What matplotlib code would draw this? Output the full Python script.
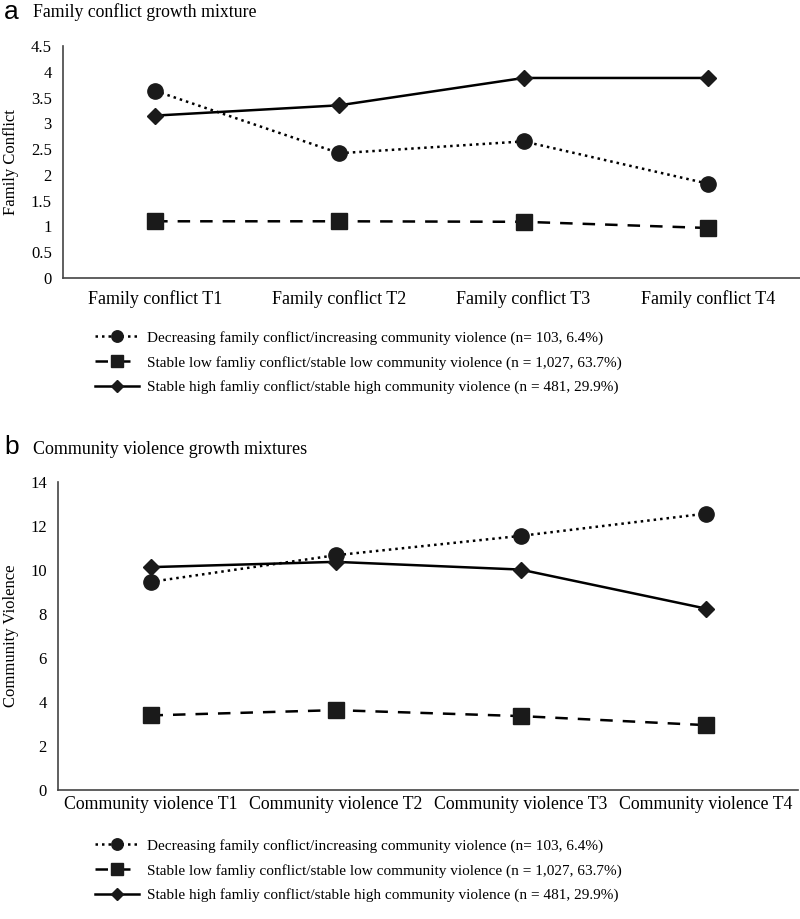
import numpy as np
import matplotlib
matplotlib.use("Agg")
import matplotlib.pyplot as plt
from matplotlib.lines import Line2D

# panel a: family conflict
fc_labels = ['Family conflict T1', 'Family conflict T2', 'Family conflict T3', 'Family conflict T4']
fc_decreasing = [3.63, 2.42, 2.65, 1.83]
fc_stable_low = [1.10, 1.10, 1.09, 0.97]
fc_stable_high = [3.15, 3.35, 3.88, 3.88]
fc_yticks = [0, 0.5, 1, 1.5, 2, 2.5, 3, 3.5, 4, 4.5]

# panel b: community violence
cv_labels = ['Community violence T1', 'Community violence T2', 'Community violence T3', 'Community violence T4']
cv_decreasing = [9.46, 10.67, 11.55, 12.56]
cv_stable_low = [3.39, 3.63, 3.36, 2.95]
cv_stable_high = [10.13, 10.37, 10.02, 8.25]
cv_yticks = [0, 2, 4, 6, 8, 10, 12, 14]

legend_labels = [
    'Decreasing family conflict/increasing community violence (n= 103, 6.4%)',
    'Stable low famliy conflict/stable low community violence (n = 1,027, 63.7%)',
    'Stable high famliy conflict/stable high community violence (n = 481, 29.9%)',
]

plt.rcParams['font.family'] = ['Liberation Serif', 'DejaVu Serif']

fig = plt.figure(figsize=(8, 9.19), dpi=100)
W, H = 800, 919

def px_axes(left, top, right, bottom):
    return fig.add_axes([left / W, 1 - bottom / H, (right - left) / W, (bottom - top) / H])

styles = [
    dict(linestyle=(0, (1, 1.6)), marker='o', markersize=11),
    dict(linestyle=(0, (5, 4)), marker='s', markersize=11),
    dict(linestyle='-', marker='D', markersize=8.5),
]

def draw_panel(ax, labels, series, yticks, ylabel, ylim, tick_fs, xpad, left_px):
    x = np.arange(len(labels))
    for vals, st in zip(series, styles):
        ax.plot(x, vals, color='black', linewidth=1.8, markerfacecolor='#1a1a1a',
                markeredgecolor='#1a1a1a', clip_on=False, **st)
    ax.set_xlim(-0.5, len(labels) - 0.5)
    ax.set_ylim(*ylim)
    ax.set_yticks(yticks)
    ax.set_yticklabels([('%g' % t) for t in yticks], fontsize=12)
    ax.set_xticks(x)
    ax.set_xticklabels(labels, fontsize=tick_fs)
    ax.tick_params(length=0)
    ax.tick_params(axis='y', pad=8)
    ax.tick_params(axis='x', pad=xpad)
    for s in ['top', 'right']:
        ax.spines[s].set_visible(False)
    for s in ['left', 'bottom']:
        ax.spines[s].set_color('#444444')
        ax.spines[s].set_linewidth(1.2)
    ax.set_ylabel(ylabel, fontsize=12, va='center')
    # place the y label at a fixed distance from the figure edge
    ax_w = ax.get_position().width * W
    ax.yaxis.set_label_coords(-(left_px - 11) / ax_w, 0.5)

def add_legend(top_y):
    handles = [Line2D([0], [0], color='black', linewidth=1.8, markerfacecolor='#1a1a1a',
                      markeredgecolor='#1a1a1a', **{**st, 'markersize': st['markersize'] * 0.75})
               for st in styles]
    fig.legend(handles, legend_labels, loc='upper left',
               bbox_to_anchor=(95 / W, 1 - top_y / H), frameon=False, fontsize=11,
               handlelength=2.9, handletextpad=0.5, labelspacing=0.7,
               borderpad=0, borderaxespad=0)

ax1 = px_axes(63, 46, 800, 278)
draw_panel(ax1, fc_labels, [fc_decreasing, fc_stable_low, fc_stable_high], fc_yticks,
           'Family Conflict', (0, 4.5), 13, 9, 63)
ax2 = px_axes(58, 482, 798, 790)
draw_panel(ax2, cv_labels, [cv_decreasing, cv_stable_low, cv_stable_high], cv_yticks,
           'Community Violence', (0, 14), 12.8, 4, 58)

fig.text(4 / W, 1 - 12 / H, 'a', fontsize=19, family='Liberation Sans', va='center')
fig.text(33 / W, 1 - 12 / H, 'Family conflict growth mixture', fontsize=12.8, va='center')
fig.text(4 / W, 1 - 447 / H, 'b', fontsize=19, family='Liberation Sans', va='center')
fig.text(33 / W, 1 - 449 / H, 'Community violence growth mixtures', fontsize=13, va='center')

add_legend(331)
add_legend(839)

fig.savefig('out.png', dpi=100)
